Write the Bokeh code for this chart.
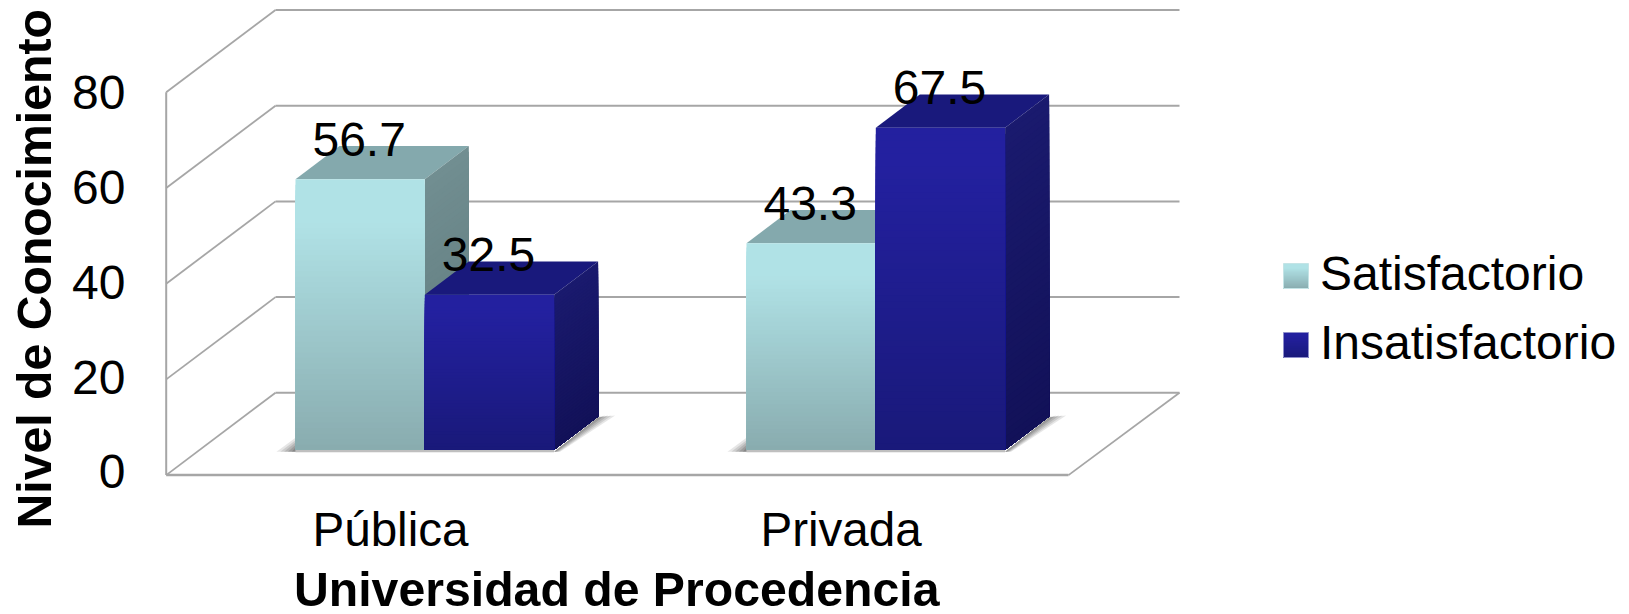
from bokeh.plotting import figure
from bokeh.embed import file_html
from bokeh.resources import INLINE
from bokeh.models import (Range1d, LinearAxis, FixedTicker, Title, Legend, LegendItem)

categories = ["Pública", "Privada"]
satisfactorio = [56.7, 43.3]
insatisfactorio = [32.5, 67.5]
y_ticks = [0, 20, 40, 60, 80]
series_names = ["Satisfactorio", "Insatisfactorio"]

FONT = "Liberation Sans"
FS = "48px"

# picture-pixel layout of the frame and of the value scale
F_L, F_R, F_T, F_B = 160, 1629, 0, 484
X0, XU = 423.3, 451.0      # x=0 (boundary of the 1st group) and pixels per category
V0, VU = 449.3, 4.77       # value 0 baseline of bars and pixels per value unit


def dx(px):
    return (px - X0) / XU


def dv(px):
    return (V0 - px) / VU


p = figure(width=1629, height=614, output_backend="svg", toolbar_location=None,
           frame_width=F_R - F_L, frame_height=F_B - F_T,
           x_range=Range1d(dx(F_L), dx(F_R)), y_range=Range1d(dv(F_B), dv(F_T)),
           min_border_left=F_L, min_border_right=0, min_border_top=0,
           min_border_bottom=614 - F_B, x_axis_location=None, y_axis_location=None)
p.outline_line_color = None
p.grid.visible = False
p.background_fill_color = "white"

# axes with their own scales for the label positions
YL0, YLU = 471.4, 4.74
p.extra_y_ranges["labels"] = Range1d((YL0 - F_B) / YLU, (YL0 - F_T) / YLU)
XL0, XLU = 389.0, 450.6
p.extra_x_ranges["labels"] = Range1d((F_L - XL0) / XLU, (F_R - XL0) / XLU)

ya = LinearAxis(y_range_name="labels", ticker=FixedTicker(ticks=y_ticks))
ya.axis_line_color = None
ya.major_tick_line_color = None
ya.minor_tick_line_color = None
ya.major_label_text_font = FONT
ya.major_label_text_font_size = FS
ya.major_label_text_color = "black"
ya.major_label_standoff = 30
p.add_layout(ya, "left")

xa = LinearAxis(x_range_name="labels", ticker=FixedTicker(ticks=[0, 1]),
                major_label_overrides={i: c for i, c in enumerate(categories)})
xa.axis_line_color = None
xa.major_tick_line_color = None
xa.minor_tick_line_color = None
xa.major_label_text_font = FONT
xa.major_label_text_font_size = "47.6px"
xa.major_label_text_color = "black"
xa.major_label_standoff = 12
p.add_layout(xa, "below")

# walls and floor
GRID = "#A6A6A6"
GRID_STEP = 4.785 / VU     # the walls' value scale relative to the bars'
WALL_X0, WALL_X1 = dx(164.7), dx(274)
RIGHT_X0, RIGHT_X1 = dx(1067), dx(1178)
FRONT_V, BACK_V = dv(474.6), dv(392.3)
p.segment(x0=[WALL_X0] * 5, y0=[t * GRID_STEP + FRONT_V for t in y_ticks],
          x1=[WALL_X1] * 5, y1=[t * GRID_STEP + BACK_V for t in y_ticks], line_color=GRID, line_width=1.8)
p.segment(x0=[WALL_X1] * 5, y0=[t * GRID_STEP + BACK_V for t in y_ticks],
          x1=[RIGHT_X1] * 5, y1=[t * GRID_STEP + BACK_V for t in y_ticks], line_color=GRID, line_width=2)
p.segment(x0=[WALL_X0], y0=[FRONT_V], x1=[WALL_X0], y1=[y_ticks[-1] * GRID_STEP + FRONT_V],
          line_color=GRID, line_width=2)
p.segment(x0=[WALL_X0], y0=[FRONT_V], x1=[RIGHT_X0], y1=[FRONT_V], line_color=GRID, line_width=2.5)
p.segment(x0=[RIGHT_X0], y0=[FRONT_V], x1=[RIGHT_X1], y1=[BACK_V], line_color=GRID, line_width=1.8)

# bars
BAR_W = 129.3 / XU
DEPTH_X = 44 / XU
DEPTH_V = 33.3 / VU
N = 50


def mix(a, b, t):
    t = max(0.0, min(1.0, t))
    return "#%02x%02x%02x" % tuple(round(a[i] + (b[i] - a[i]) * t) for i in range(3))


# floor shadows: soft wedges built from layers
for cat in range(2):
    left = cat - BAR_W
    right = cat + BAR_W
    for w, alpha in ((1.0, 0.13), (0.8, 0.15), (0.6, 0.17), (0.4, 0.2), (0.2, 0.22)):
        p.patch([left - w * 19 / XU, left, left], [-2 / VU, -2 / VU, w * 12 / VU],
                fill_color="#404040", fill_alpha=alpha, line_color=None)
        p.patch([right, right + DEPTH_X, right + DEPTH_X + w * 17 / XU, right + w * 6 / XU],
                [-2 / VU, DEPTH_V - 1 / VU, DEPTH_V + 1 / VU, -2 / VU],
                fill_color="#404040", fill_alpha=alpha, line_color=None)
    p.quad(left=[left], right=[right], top=[0], bottom=[-2.5 / VU],
           fill_color="#707070", fill_alpha=0.45, line_color=None)

SAT = dict(top=(0xB0, 0xE2, 0xE6), bot=(0x88, 0xAB, 0xAE), face=(0x84, 0xA9, 0xAD),
           s_top=(0x71, 0x8E, 0x91), s_bot=(0x5E, 0x78, 0x7B), flat=0.15)
INS = dict(top=(0x23, 0x20, 0x9F), bot=(0x19, 0x19, 0x79), face=(0x19, 0x19, 0x7C),
           s_top=(0x1A, 0x1A, 0x6E), s_bot=(0x12, 0x11, 0x58), flat=0.1)

keys = []
for sign, vals, st, name in ((-1, satisfactorio, SAT, series_names[0]),
                             (0, insatisfactorio, INS, series_names[1])):
    lefts, rights, tops, bots, cols = [], [], [], [], []
    for cat, v in enumerate(vals):
        x0 = cat + sign * BAR_W
        x1 = x0 + BAR_W
        # top face
        p.patch([x0, x1, x1 + DEPTH_X, x0 + DEPTH_X], [v, v, v + DEPTH_V, v + DEPTH_V],
                fill_color=mix(st["face"], st["face"], 0), line_color=None)
        # side face
        for k in range(N):
            f = 1 - k / N
            c = mix(st["s_bot"], st["s_top"], f)
            h = v * f
            p.patch([x1, x1 + DEPTH_X, x1 + DEPTH_X, x1], [0, DEPTH_V, h + DEPTH_V, h],
                    fill_color=c, line_color=None)
        # front face: tallest strip first, each shorter one painted over it
        for k in range(N):
            f = 1 - k / N
            lefts.append(x0)
            rights.append(x1)
            tops.append(v * f)
            bots.append(0)
            cols.append(mix(st["bot"], st["top"], f / (1 - st["flat"])))
    p.quad(left=lefts, right=rights, top=tops, bottom=bots, fill_color=cols, line_color=None)
    # transparent key: the swatch gradient is painted below
    keys.append(p.quad(left=[vals[0]], right=[vals[0]], top=[0], bottom=[0],
                       fill_alpha=0, line_alpha=0))

# value labels
centers = [c - BAR_W / 2 for c in range(2)] + [c + BAR_W / 2 for c in range(2)]
p.text(x=centers, y=satisfactorio + insatisfactorio,
       text=[str(v) for v in satisfactorio + insatisfactorio],
       text_font={"value": FONT}, text_font_size={"value": FS}, text_color="black",
       text_align="center", text_baseline="middle", x_offset=-1, y_offset=-40)

# legend
SW_L, SW = 1282, 25
for top_px, st, edge in ((263, SAT, "#C4E4E6"), (332, INS, "#8E8ECB")):
    for k in range(20):
        f = 1 - k / 20
        p.quad(left=[dx(SW_L)], right=[dx(SW_L + SW)], top=[dv(top_px + SW * (1 - f))], bottom=[dv(top_px + SW)],
               fill_color=mix(st["bot"], st["top"], f / (1 - st["flat"])), line_color=None)
    p.quad(left=[dx(SW_L)], right=[dx(SW_L + SW)], top=[dv(top_px)], bottom=[dv(top_px + SW)],
           fill_color=None, line_color=edge, line_width=1)

legend = Legend(items=[LegendItem(label=series_names[0], renderers=[keys[0]]),
                       LegendItem(label=series_names[1], renderers=[keys[1]])],
                location=(SW_L - F_L, F_B - 370), orientation="vertical",
                padding=0, margin=0, spacing=14, background_fill_alpha=0, border_line_alpha=0,
                glyph_width=SW, glyph_height=SW, label_standoff=12,
                label_text_font=FONT, label_text_font_size=FS, label_text_color="black")
p.add_layout(legend)

# axis titles
p.add_layout(Title(text="Universidad de Procedencia", align="left", offset=292.5 - F_L, standoff=2.5,
                   text_font=FONT, text_font_size="48.2px", text_font_style="bold", text_color="black"), "below")
p.add_layout(Title(text="Nivel de Conocimiento", align="left", offset=F_B - 528, standoff=12.5,
                   vertical_align="top",
                   text_font=FONT, text_font_size="48.2px", text_font_style="bold", text_color="black"), "left")

open("out.html", "w").write(file_html(p, INLINE))
